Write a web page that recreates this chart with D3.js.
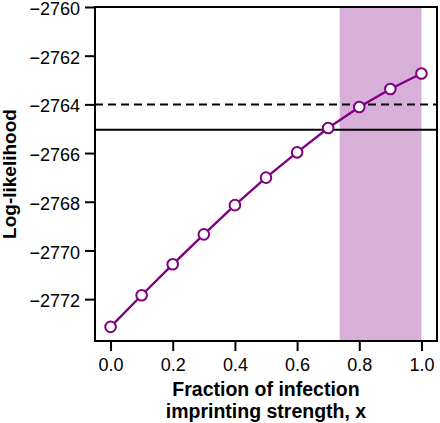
<!DOCTYPE html>
<html>
<head>
<meta charset="utf-8">
<script src="https://cdn.jsdelivr.net/npm/d3@7"></script>
<style>
  html, body { margin: 0; padding: 0; background: #fff; }
  svg { display: block; font-family: "Liberation Sans", Arial, Helvetica, sans-serif; }
</style>
</head>
<body>
<svg id="chart" width="440" height="423"></svg>
<script>
// Data
const fractions = [0.0, 0.1, 0.2, 0.3, 0.4, 0.5, 0.6, 0.7, 0.8, 0.9, 1.0];
const logLik = [-2773.14, -2771.84, -2770.57, -2769.34, -2768.14, -2767.01, -2765.97, -2764.97, -2764.11, -2763.37, -2762.73];
const xTicks = [0.0, 0.2, 0.4, 0.6, 0.8, 1.0];
const yTicks = [-2772, -2770, -2768, -2766, -2764, -2762, -2760];
const shadedRange = [0.737, 1.0];
const dashedLevel = [-2764.0];
const solidLevel = [-2765.04];
const xLabelLines = ["Fraction of infection", "imprinting strength, x"];
const yLabel = "Log-likelihood";

const margin = { left: 95, top: 7, right: 3, bottom: 82 };
const W = 440, H = 423;
const svg = d3.select("#chart");

const xDom = [-0.05, 1.05], yDom = [-2773.72, -2760];
const x = d3.scaleLinear().domain(xDom).range([margin.left, W - margin.right]);
const y = d3.scaleLinear().domain(yDom).range([H - margin.bottom, margin.top]);

const purple = "#800080";

// shaded region
svg.append("rect")
  .attr("x", x(shadedRange[0]))
  .attr("y", y(yDom[1]))
  .attr("width", x(shadedRange[1]) - x(shadedRange[0]))
  .attr("height", y(yDom[0]) - y(yDom[1]))
  .attr("fill", "#d8afd8");

// reference lines
svg.selectAll(".dash").data(dashedLevel).enter().append("line")
  .attr("x1", x(xDom[0])).attr("x2", x(xDom[1]))
  .attr("y1", d => y(d)).attr("y2", d => y(d))
  .attr("stroke", "#000").attr("stroke-width", 2).attr("stroke-dasharray", "8,5");
svg.selectAll(".solid").data(solidLevel).enter().append("line")
  .attr("x1", x(xDom[0])).attr("x2", x(xDom[1]))
  .attr("y1", d => y(d)).attr("y2", d => y(d))
  .attr("stroke", "#000").attr("stroke-width", 2);

// line
const pts = fractions.map((f, i) => [f, logLik[i]]);
svg.append("path")
  .datum(pts)
  .attr("fill", "none")
  .attr("stroke", purple)
  .attr("stroke-width", 2.4)
  .attr("d", d3.line().x(d => x(d[0])).y(d => y(d[1])));

svg.selectAll(".pt").data(pts).enter().append("circle")
  .attr("cx", d => x(d[0])).attr("cy", d => y(d[1]))
  .attr("r", 5.3)
  .attr("fill", "#fff")
  .attr("stroke", purple)
  .attr("stroke-width", 2);

// axes
const xAxis = svg.append("g")
  .attr("transform", `translate(0,${H - margin.bottom})`)
  .call(d3.axisBottom(x).tickValues(xTicks).tickFormat(d3.format(".1f")).tickSize(10).tickPadding(7));
const yAxis = svg.append("g")
  .attr("transform", `translate(${margin.left},0)`)
  .call(d3.axisLeft(y).tickValues(yTicks).tickFormat(d => d3.format("d")(d).replace("-", "\u2212")).tickSize(10).tickPadding(5));
[xAxis, yAxis].forEach(g => {
  g.select(".domain").remove();
  g.selectAll(".tick line").attr("stroke", "#000").attr("stroke-width", 2);
  g.selectAll(".tick text").attr("fill", "#000").style("font-size", "18px").style("font-family", "'Liberation Sans', Arial, sans-serif");
});
yAxis.selectAll(".tick text").attr("dy", "0.42em");

// frame
svg.append("rect")
  .attr("x", x(xDom[0])).attr("y", y(yDom[1]))
  .attr("width", x(xDom[1]) - x(xDom[0]))
  .attr("height", y(yDom[0]) - y(yDom[1]))
  .attr("fill", "none").attr("stroke", "#000").attr("stroke-width", 2);

// labels
const xl = svg.append("text")
  .attr("text-anchor", "middle")
  .attr("font-weight", "bold")
  .style("font-size", "19.5px");
xLabelLines.forEach((t, i) => {
  xl.append("tspan").attr("x", 266).attr("y", 396 + i * 22).text(t);
});
svg.append("text")
  .attr("transform", `translate(16,${(margin.top + H - margin.bottom) / 2}) rotate(-90)`)
  .attr("text-anchor", "middle")
  .attr("font-weight", "bold")
  .style("font-size", "19px")
  .text(yLabel);
</script>
</body>
</html>
